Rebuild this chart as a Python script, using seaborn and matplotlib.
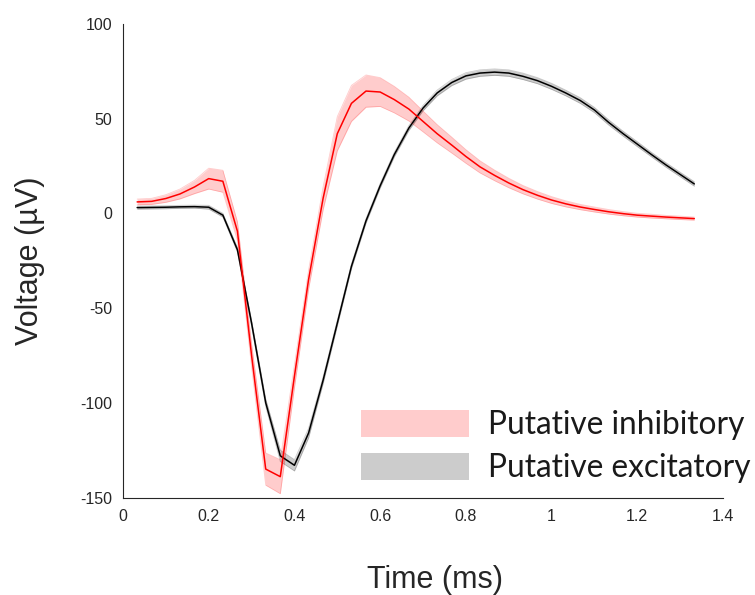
import numpy as np
import pandas as pd
import seaborn as sns
import matplotlib.pyplot as plt
from matplotlib.patches import Patch

# sample times (ms), one sample every 1/30 ms
time_ms = [0.033, 0.067, 0.100, 0.133, 0.167, 0.200, 0.233, 0.267, 0.300, 0.333,
           0.367, 0.400, 0.433, 0.467, 0.500, 0.533, 0.567, 0.600, 0.633, 0.667,
           0.700, 0.733, 0.767, 0.800, 0.833, 0.867, 0.900, 0.933, 0.967, 1.000,
           1.033, 1.067, 1.100, 1.133, 1.167, 1.200, 1.233, 1.267, 1.300, 1.333]

# putative inhibitory: mean waveform and error band half-width (uV)
inhib_mean = [6.0, 6.3, 7.8, 10.2, 13.9, 18.3, 16.9, -9.5, -75, -135,
              -139, -86, -35, 8, 42, 58, 64.5, 64, 60, 55,
              48.5, 42, 36, 30, 24.5, 20, 16, 12.5, 9.5, 7,
              5, 3.3, 2, 0.8, -0.2, -1, -1.5, -2, -2.4, -2.8]
inhib_err = [1.5, 1.6, 2, 2.6, 3.5, 5.5, 5.8, 5, 6, 8.5,
             9, 6, 5, 6, 9, 9.5, 8.5, 7.6, 7, 6.3,
             5.5, 4.8, 4.2, 3.6, 3.2, 2.8, 2.5, 2.2, 2, 1.8,
             1.6, 1.4, 1.3, 1.2, 1.1, 1, 1, 0.9, 0.9, 0.8]

# putative excitatory
excit_mean = [3.0, 3.1, 3.2, 3.4, 3.5, 3.2, -1.0, -19.3, -58, -100,
              -128, -133, -116, -88, -58, -28, -4, 14.5, 31, 45,
              55.5, 63.5, 69, 72.5, 74, 74.5, 74, 72.3, 70, 67,
              63.5, 59.5, 54.5, 48, 42, 36.5, 31, 25.5, 20.5, 15.5]
excit_err = [0.8, 0.8, 0.8, 0.8, 0.8, 1.0, 1.0, 1.2, 1.5, 2,
             3, 3, 2.5, 1.8, 1.5, 1.3, 1.2, 1.2, 1.2, 1.3,
             1.4, 1.5, 1.6, 1.7, 1.7, 1.7, 1.7, 1.7, 1.6, 1.6,
             1.5, 1.5, 1.4, 1.4, 1.3, 1.3, 1.2, 1.2, 1.2, 1.2]

labels = ['Putative inhibitory', 'Putative excitatory']
xticks = [0, 0.2, 0.4, 0.6, 0.8, 1, 1.2, 1.4]
xtick_labels = ['0', '0.2', '0.4', '0.6', '0.8', '1', '1.2', '1.4']
yticks = [-150, -100, -50, 0, 50, 100]

df = pd.DataFrame({
    'Time': time_ms * 2,
    'Voltage': inhib_mean + excit_mean,
    'err': inhib_err + excit_err,
    'cell': [labels[0]] * len(time_ms) + [labels[1]] * len(time_ms),
})

sns.set_style('white')
plt.rcParams['font.family'] = ['Liberation Sans', 'DejaVu Sans']
plt.rcParams['axes.unicode_minus'] = False
ink = '#262626'

fig = plt.figure(figsize=(7.55, 5.95), dpi=100)
ax = fig.add_axes([123 / 755, 97.5 / 595, 600 / 755, 473.7 / 595])

colors = {labels[0]: '#ff0000', labels[1]: '#000000'}
# excitatory drawn first, inhibitory on top
for name in [labels[1], labels[0]]:
    d = df[df['cell'] == name]
    c = colors[name]
    lo = d['Voltage'] - d['err']
    hi = d['Voltage'] + d['err']
    ax.fill_between(d['Time'], lo, hi, color=c, alpha=0.2, lw=0)
    ax.plot(d['Time'], lo, color=c, alpha=0.2, lw=0.6)
    ax.plot(d['Time'], hi, color=c, alpha=0.2, lw=0.6)
    sns.lineplot(data=d, x='Time', y='Voltage', color=c, lw=1.1, ax=ax,
                 estimator=None, errorbar=None)

ax.set_xlim(0, 1.4)
ax.set_ylim(-150, 100)
ax.set_xticks(xticks)
ax.set_xticklabels(xtick_labels)
ax.set_yticks(yticks)
sns.despine(ax=ax)
for s in ['left', 'bottom']:
    ax.spines[s].set_color(ink)
    ax.spines[s].set_linewidth(0.8)
ax.tick_params(direction='in', length=4, width=0.8, colors=ink,
               labelsize=11.5, pad=8)

ax.set_xlabel('Time (ms)', fontsize=22, color=ink)
ax.set_ylabel('Voltage (\u00b5V)', fontsize=22, color=ink)
ax.xaxis.set_label_coords(0.52, -0.142)
ax.yaxis.set_label_coords(-0.13, 0.5)

handles = [Patch(facecolor='#ffcccc', edgecolor='none'),
           Patch(facecolor='#cccccc', edgecolor='none')]
leg = ax.legend(handles, labels, loc='upper left',
                bbox_to_anchor=(361 / 755, 1 - 410 / 595),
                bbox_transform=fig.transFigure, frameon=False,
                prop={'family': 'Lato', 'size': 22.8},
                handlelength=3.4, handleheight=0.93, handletextpad=0.62,
                labelspacing=0.4, borderpad=0, borderaxespad=0)
for t in leg.get_texts():
    t.set_color('#1a1a1a')

fig.savefig('out.png', dpi=100)
